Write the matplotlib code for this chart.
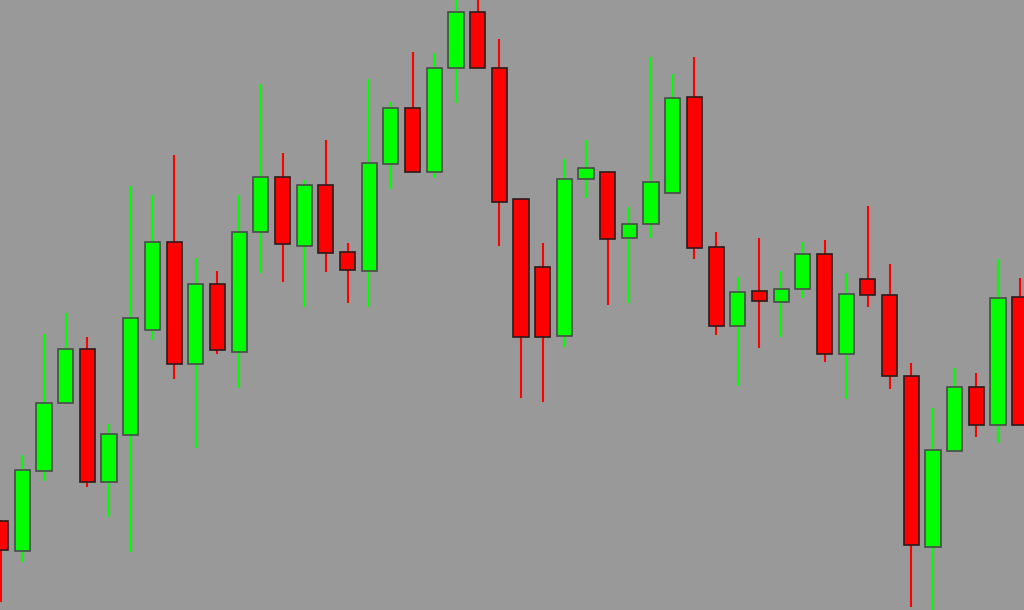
import numpy as np
import matplotlib
matplotlib.use("Agg")
import matplotlib.pyplot as plt

# candle prices (arbitrary units)
opens = [89, 58.7, 139.3, 206.7, 261.3, 127.7, 175, 280, 367.7, 246,
         325.7, 258, 378.3, 433.3, 364.3, 424.7, 357.7, 339.3, 446, 501.7,
         437.7, 541.7, 598.3, 542.3, 411, 343.3, 274, 430.7, 437.7, 372,
         385.7, 417.3, 512.7, 362.7, 284.3, 319.3, 307.7, 321.3, 356, 256.3,
         331, 314.7, 234, 63.3, 159.3, 223.3, 184.7, 312.7]
highs = [90, 155, 275.7, 297.3, 272.7, 186, 424, 415, 455, 352.3,
         339.3, 415, 525.7, 456.7, 430, 470, 367.3, 531, 508.3, 557.7,
         556.7, 615, 615, 571, 411, 366.7, 451, 470, 437.7, 402.7,
         552.7, 536, 552.7, 377.7, 333.3, 372.3, 339, 368, 370, 337.3,
         404.3, 346, 246.7, 201.7, 241.7, 237.3, 351, 331.7]
lows = [8, 48.3, 129, 206.7, 123.3, 92.7, 57.7, 270, 230.7, 162,
        255.7, 222.3, 336.7, 327.7, 303.3, 338.3, 307.3, 302.7, 420.7, 437.7,
        431.7, 507.3, 541.7, 364, 211.7, 207.7, 263.3, 412.3, 305, 307.3,
        371.7, 417.3, 350.7, 275, 224, 261.7, 272.7, 311.7, 248.3, 211.3,
        302.7, 220.7, 3.3, -5, 159.3, 172.7, 167.3, 184.7]
closes = [60, 140, 206.7, 260.7, 128.3, 175.7, 291.7, 368, 246, 325.7,
          260, 378.3, 433.3, 365.7, 425, 357.3, 340, 446.7, 502.3, 437.7,
          541.7, 598.3, 541.7, 408.3, 273.3, 273.3, 431, 442.3, 370.7, 386.3,
          428.3, 512, 362.3, 284.3, 318.3, 309, 321.3, 355.7, 256.3, 316.3,
          314.7, 233.7, 65, 159.7, 223.3, 185, 312, 184.7]

opens = np.array(opens)
highs = np.array(highs)
lows = np.array(lows)
closes = np.array(closes)
idx = np.arange(len(opens))

up = closes >= opens
colors = np.where(up, '#00ff00', '#ff0000')
edges = np.where(up, '#4a4a4a', '#2a1c1c')

fig = plt.figure(figsize=(10.24, 6.10), dpi=100)
fig.patch.set_facecolor('#999999')
ax = fig.add_axes([0, 0, 1, 1])
ax.set_facecolor('#999999')

# wicks first, bodies on top
ax.vlines(idx, lows, highs, colors=colors, linewidth=1.5, zorder=1)

bottoms = np.minimum(opens, closes)
heights = np.abs(closes - opens)
ax.bar(idx, heights, bottom=bottoms, width=0.7, color=colors,
       edgecolor=edges, linewidth=1.2, zorder=2)

ax.set_xlim(-0.03, 47.2)
ax.set_ylim(0, 610)
ax.axis('off')

plt.savefig('out.png', dpi=100, facecolor=fig.get_facecolor())
